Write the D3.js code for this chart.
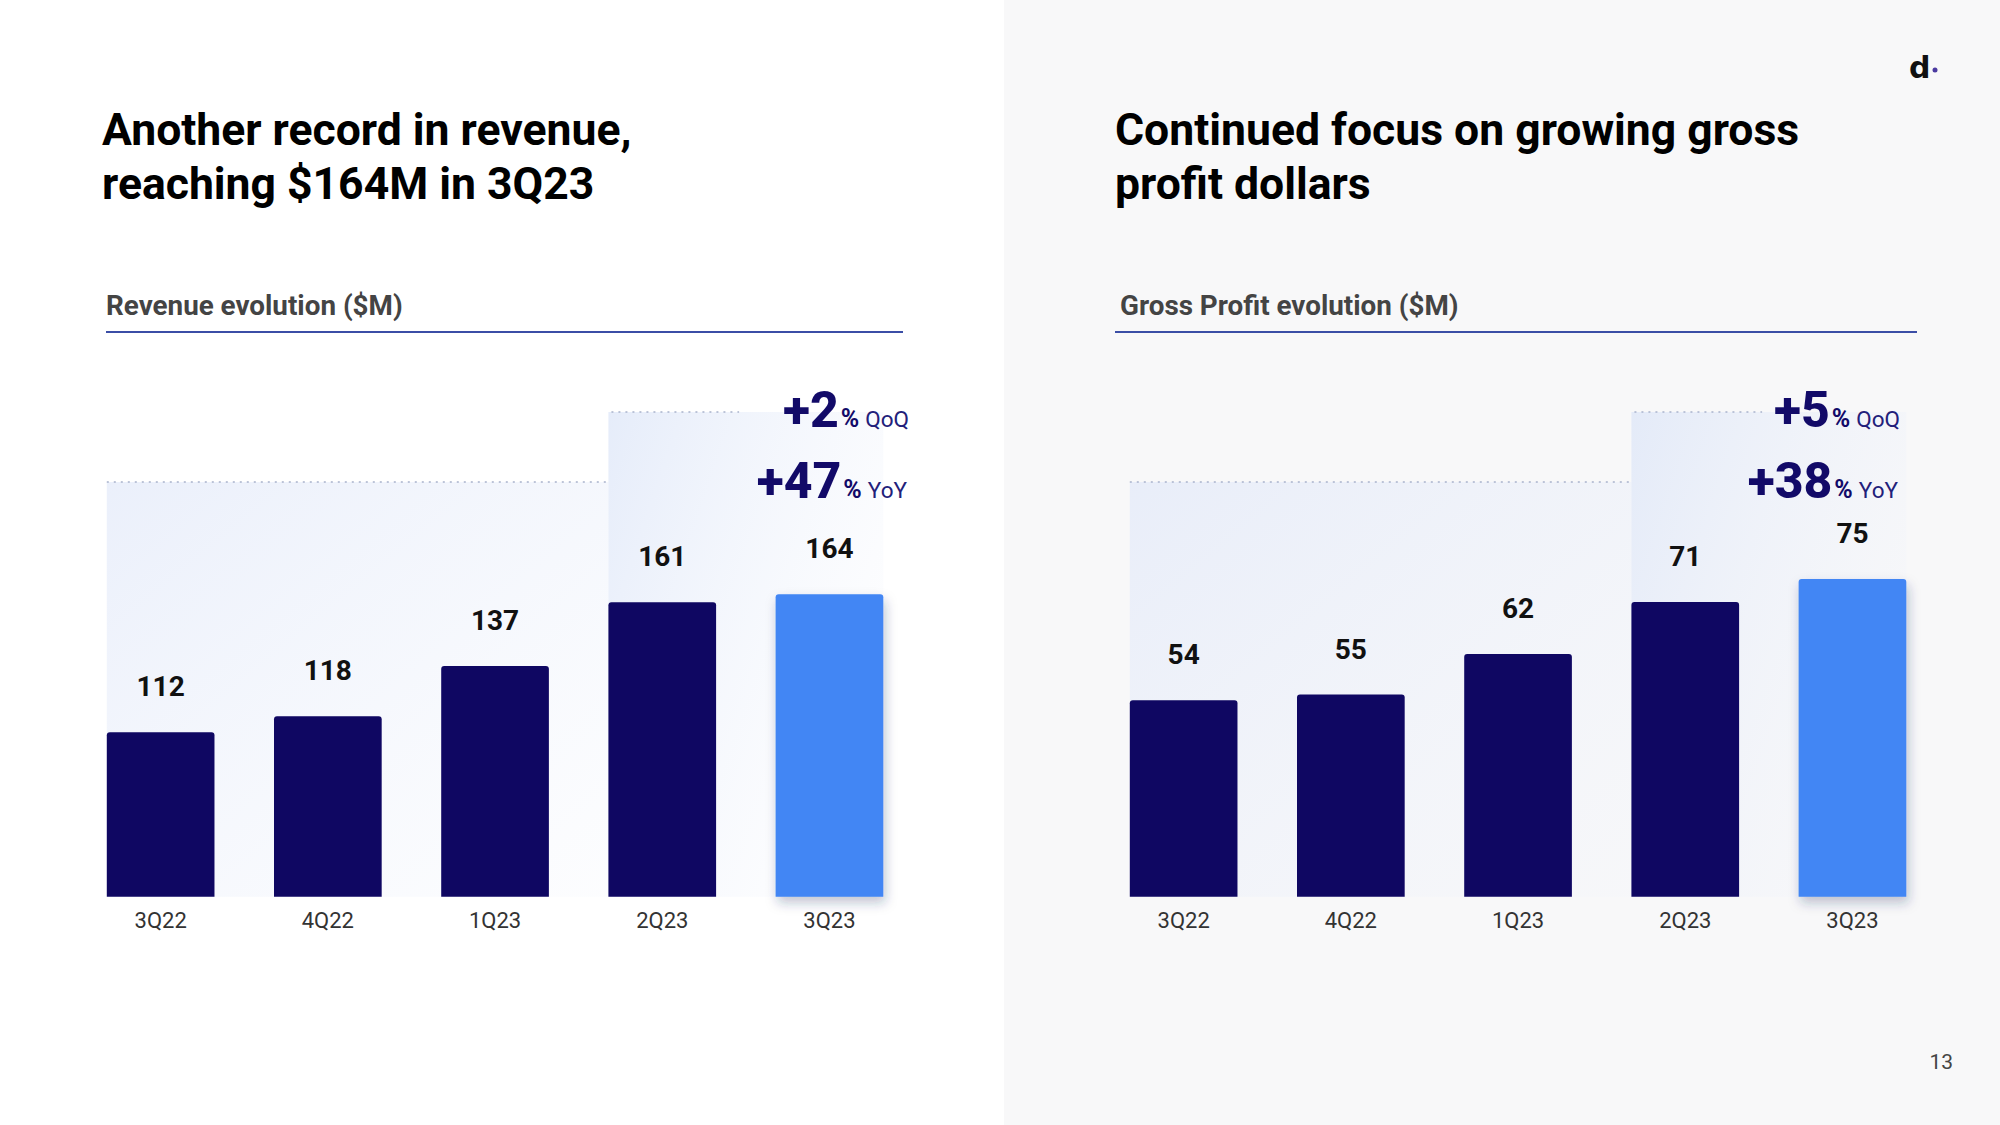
<!DOCTYPE html>
<html>
<head>
<meta charset="utf-8">
<script src="https://cdn.jsdelivr.net/npm/d3@7/dist/d3.min.js"></script>
<style>
  html, body { margin: 0; padding: 0; background: #ffffff; }
  svg { display: block; font-family: Roboto, "Open Sans", sans-serif; }
</style>
</head>
<body>
<svg id="chart" width="2000" height="1125"></svg>
<script>
// ---------- DATA ----------
const categories = ["3Q22", "4Q22", "1Q23", "2Q23", "3Q23"];
const revenue = [112, 118, 137, 161, 164];
const grossProfit = [54, 55, 62, 71, 75];
const revenueQoQ = 2;
const revenueYoY = 47;
const grossProfitQoQ = 5;
const grossProfitYoY = 38;
const revenueAxisMin = 50;
const grossProfitAxisMin = 20;
const titles = ["Another record in revenue,|reaching $164M in 3Q23", "Continued focus on growing gross|profit dollars"];
const subtitles = ["Revenue evolution ($M)", "Gross Profit evolution ($M)"];
const pageNumber = "13";

// ---------- LAYOUT ----------
const W = 2000, H = 1125;
const svg = d3.select("#chart");
const defs = svg.append("defs");

const NAVY = "#0f0762", BLUE = "#4286f4";

defs.append("filter").attr("id", "shadow").attr("x", "-30%").attr("y", "-10%").attr("width", "160%").attr("height", "130%")
  .append("feDropShadow").attr("dx", 2).attr("dy", 6).attr("stdDeviation", 6)
  .attr("flood-color", "#1a2a60").attr("flood-opacity", 0.28);

const grad = defs.append("linearGradient").attr("id", "shade").attr("x1", "0").attr("y1", "0").attr("x2", "1").attr("y2", "1");
grad.append("stop").attr("offset", "0%").attr("stop-color", "#e2e9f9").attr("stop-opacity", 0.7);
grad.append("stop").attr("offset", "100%").attr("stop-color", "#eef2fb").attr("stop-opacity", 0.15);

const grad2 = defs.append("linearGradient").attr("id", "shade2").attr("x1", "0").attr("y1", "0").attr("x2", "1").attr("y2", "0.6");
grad2.append("stop").attr("offset", "0%").attr("stop-color", "#dde6f8").attr("stop-opacity", 0.75);
grad2.append("stop").attr("offset", "100%").attr("stop-color", "#eef2fb").attr("stop-opacity", 0.1);

// background
svg.append("rect").attr("x", 0).attr("y", 0).attr("width", W).attr("height", H).attr("fill", "#ffffff");
svg.append("rect").attr("x", 1004).attr("y", 0).attr("width", W - 1004).attr("height", H).attr("fill", "#f8f8f9");

const panels = [
  { values: revenue, qoq: revenueQoQ, yoy: revenueYoY, yMin: revenueAxisMin, title: titles[0], sub: subtitles[0],
    titleX: 102, subX: 106, lineX0: 106, lineX1: 903, x0: 106.8, annoX: 909 },
  { values: grossProfit, qoq: grossProfitQoQ, yoy: grossProfitYoY, yMin: grossProfitAxisMin, title: titles[1], sub: subtitles[1],
    titleX: 1115, subX: 1120, lineX0: 1115, lineX1: 1917, x0: 1129.8, annoX: 1900 }
];

const baseY = 896.8, topY = [594.3, 578.9];
const yoyY = 482, qoqY = 412;

function barPath(x, y, w, h, r) {
  return `M${x},${y + h}V${y + r}Q${x},${y} ${x + r},${y}H${x + w - r}Q${x + w},${y} ${x + w},${y + r}V${y + h}Z`;
}

panels.forEach((p, pi) => {
  const g = svg.append("g");

  // title
  const t = g.append("text").attr("x", p.titleX).attr("y", 145)
    .attr("font-size", 44.5).attr("font-weight", 700).attr("fill", "#000");
  p.title.split("|").forEach((line, i) => {
    t.append("tspan").attr("x", p.titleX).attr("dy", i === 0 ? 0 : 54).text(line);
  });

  // subtitle + rule
  g.append("text").attr("x", p.subX).attr("y", 315).attr("font-size", 27.8).attr("font-weight", 700)
    .attr("fill", "#444").text(p.sub);
  g.append("line").attr("x1", p.lineX0).attr("x2", p.lineX1).attr("y1", 332).attr("y2", 332)
    .attr("stroke", "#3b4ea6").attr("stroke-width", 2);

  // scales
  const x = d3.scaleBand().domain(categories).range([p.x0, p.x0 + 776.5]).paddingInner(0.356).paddingOuter(0);
  const y = d3.scaleLinear().domain([p.yMin, d3.max(p.values)]).range([baseY, topY[pi]]);
  const bw = x.bandwidth();

  // shaded comparison regions
  const xFirst = x(categories[0]);
  const xPrev = x(categories[3]);
  const xLast = x(categories[4]) + bw;
  g.append("rect").attr("x", xFirst).attr("y", yoyY).attr("width", xPrev - xFirst).attr("height", baseY - yoyY)
    .attr("fill", "url(#shade)");
  g.append("rect").attr("x", xPrev).attr("y", qoqY).attr("width", xLast - xPrev).attr("height", baseY - qoqY)
    .attr("fill", "url(#shade2)");
  g.append("line").attr("x1", xFirst).attr("x2", xPrev).attr("y1", yoyY).attr("y2", yoyY)
    .attr("stroke", "#a9b3cc").attr("stroke-width", 1.5).attr("stroke-dasharray", "2,5");
  g.append("line").attr("x1", xPrev + 3).attr("x2", xPrev + bw + 23).attr("y1", qoqY).attr("y2", qoqY)
    .attr("stroke", "#a9b3cc").attr("stroke-width", 1.5).attr("stroke-dasharray", "2,5");

  // bars
  g.selectAll("path.bar").data(p.values).join("path")
    .attr("class", "bar")
    .attr("d", (d, i) => barPath(x(categories[i]), y(d), bw, baseY - y(d), 3))
    .attr("fill", (d, i) => i === categories.length - 1 ? BLUE : NAVY)
    .attr("filter", (d, i) => i === categories.length - 1 ? "url(#shadow)" : null);

  // value labels
  g.selectAll("text.val").data(p.values).join("text")
    .attr("class", "val")
    .attr("x", (d, i) => x(categories[i]) + bw / 2)
    .attr("y", d => y(d) - 36)
    .attr("text-anchor", "middle").attr("font-size", 28).attr("font-weight", 700).attr("fill", "#111")
    .text(d => d);

  // x axis
  const ax = g.append("g").attr("transform", `translate(0,${baseY})`)
    .call(d3.axisBottom(x).tickSize(0).tickPadding(15.4));
  ax.select(".domain").remove();
  ax.selectAll("text").attr("font-size", 22).attr("font-family", "Roboto, sans-serif").attr("fill", "#333");

  // growth annotations
  const q = g.append("text").attr("x", p.annoX).attr("y", 427).attr("text-anchor", "end").attr("fill", "#120a68");
  q.append("tspan").attr("font-size", 50).attr("font-weight", 800).text("+" + p.qoq);
  q.append("tspan").attr("font-size", 25).attr("font-weight", 700).attr("dx", 2).text("%");
  q.append("tspan").attr("font-size", 22.5).attr("font-weight", 400).attr("fill", "#22207a").attr("dx", 6).text("QoQ");

  const yy = g.append("text").attr("x", p.annoX - 2).attr("y", 498).attr("text-anchor", "end").attr("fill", "#120a68");
  yy.append("tspan").attr("font-size", 50).attr("font-weight", 800).text("+" + p.yoy);
  yy.append("tspan").attr("font-size", 25).attr("font-weight", 700).attr("dx", 2).text("%");
  yy.append("tspan").attr("font-size", 22.5).attr("font-weight", 400).attr("fill", "#22207a").attr("dx", 6).text("YoY");
});

// logo
svg.append("text").attr("x", 1909).attr("y", 78).attr("font-family", "'DejaVu Sans', sans-serif")
  .attr("font-size", 30).attr("font-weight", 700).attr("fill", "#111").text("d");
svg.append("circle").attr("cx", 1935).attr("cy", 70).attr("r", 2.5).attr("fill", "#4b3aa0");

// page number
svg.append("text").attr("x", 1953).attr("y", 1069).attr("text-anchor", "end")
  .attr("font-size", 21).attr("fill", "#444").text(pageNumber);
</script>
</body>
</html>
